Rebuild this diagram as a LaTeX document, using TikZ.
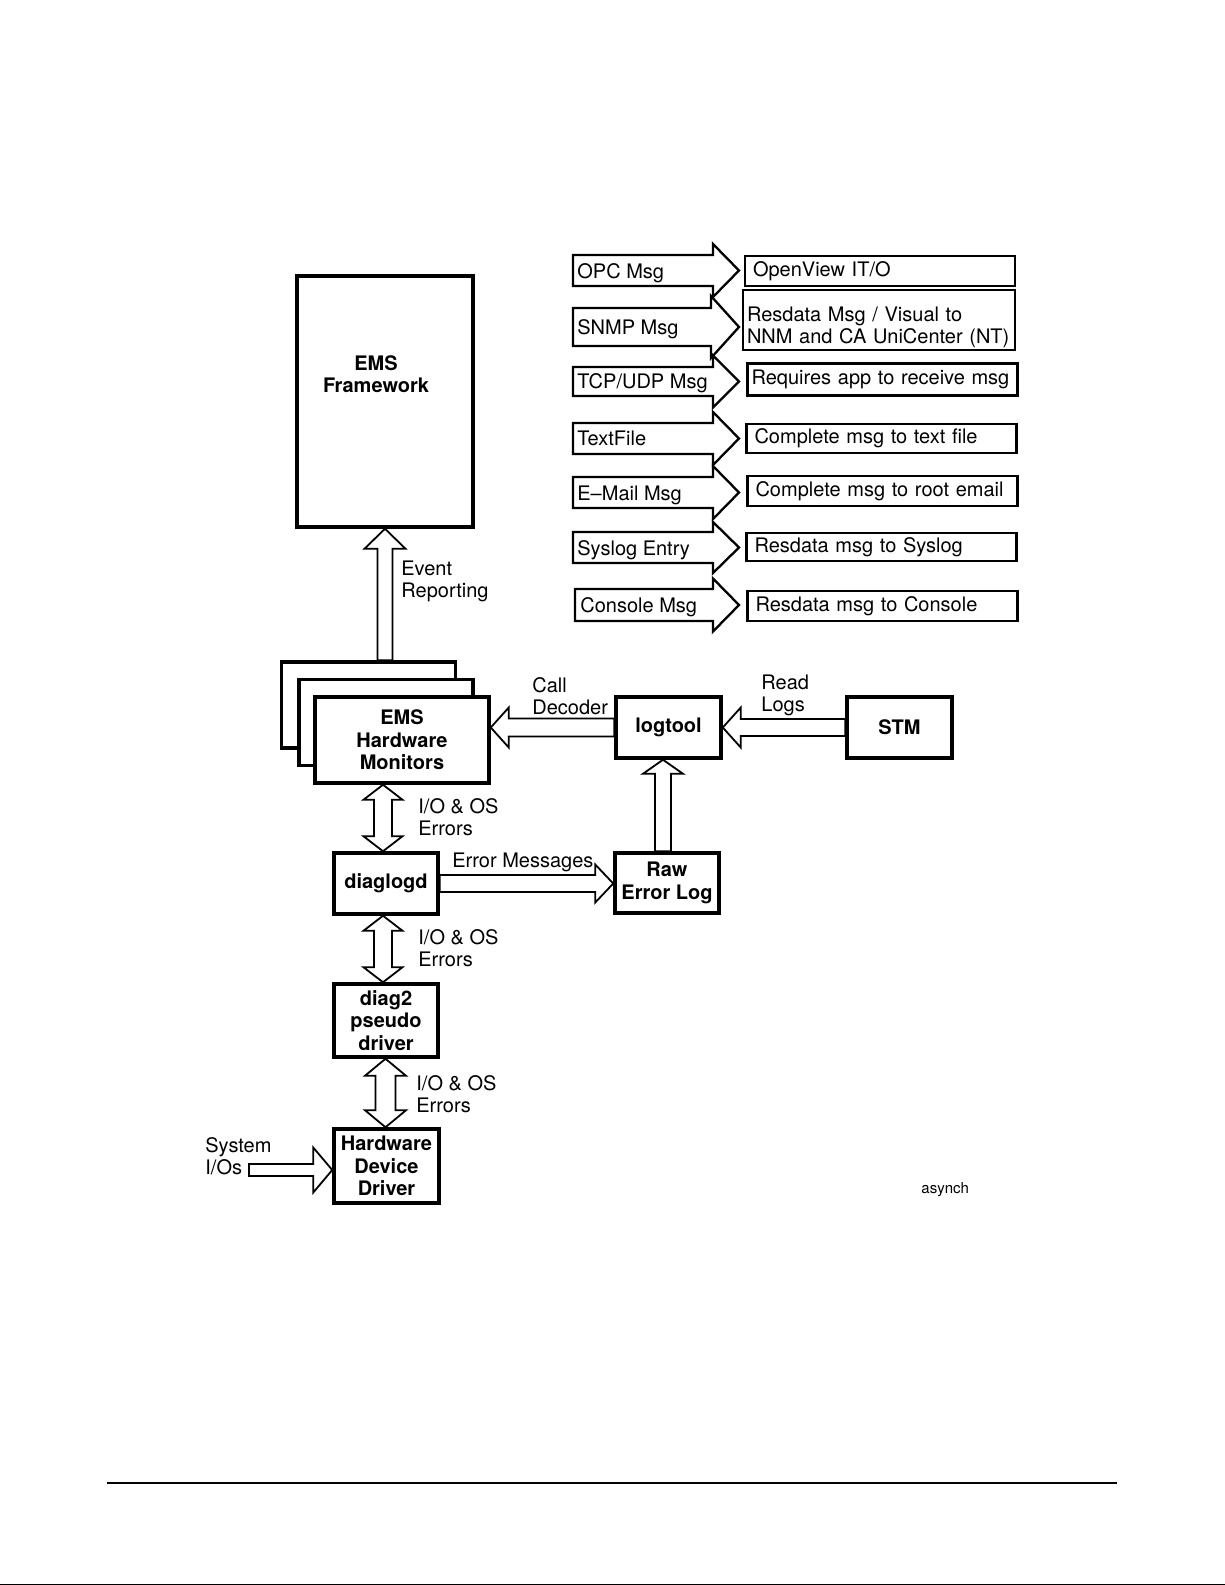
\documentclass[tikz,border=0pt]{standalone}
\usepackage{fontspec}
\setmainfont{TeX Gyre Heros}
\usetikzlibrary{calc,backgrounds}

\tikzset{
  fshaft/.store in=\fshaft, fhead/.store in=\fhead,
  flen/.store in=\flen, fwidth/.store in=\fwidth,
  fshaft=4.5pt, fhead=10pt, flen=9pt, fwidth=0.9pt,
  blockarrow/.style={draw, line width=\fwidth, line join=miter, fill=white},
  rowarrow/.style={fshaft=7.75pt, fhead=13.25pt, flen=13pt, fwidth=1.15pt},
  boldbox/.style={draw, line width=1.75pt, fill=white, inner sep=0pt, align=center,
    font=\bfseries\fontsize{10}{11.2}\selectfont},
  outbox/.style={draw, line width=1.1pt, fill=white, inner xsep=4pt, inner ysep=0pt,
    text width=127pt, align=left, minimum height=15pt, font=\fontsize{10}{11}\selectfont},
  lbl/.style={inner sep=0pt, align=left, font=\fontsize{10}{11}\selectfont},
  boldlbl/.style={inner sep=0pt, align=center, font=\bfseries\fontsize{10}{11.2}\selectfont},
}

% outlined block arrow from #2 to #3
\newcommand{\fatarrow}[3][]{%
  \begin{scope}[#1]
  \begin{pgfonlayer}{background}
    \coordinate (fa-a) at (#2);
    \coordinate (fa-b) at (#3);
    \coordinate (fa-c) at ($(fa-b)!\flen!(fa-a)$);
    \draw[blockarrow] ($(fa-a)!\fshaft!90:(fa-b)$) -- ($(fa-c)!\fshaft!90:(fa-b)$)
      -- ($(fa-c)!\fhead!90:(fa-b)$) -- (fa-b) -- ($(fa-c)!\fhead!-90:(fa-b)$)
      -- ($(fa-c)!\fshaft!-90:(fa-b)$) -- ($(fa-a)!\fshaft!-90:(fa-b)$) -- cycle;
  \end{pgfonlayer}
  \end{scope}}

% outlined block arrow with a head at both ends
\newcommand{\dblarrow}[3][]{%
  \begin{scope}[#1]
  \begin{pgfonlayer}{background}
    \coordinate (fa-a) at (#2);
    \coordinate (fa-b) at (#3);
    \coordinate (fa-c) at ($(fa-b)!\flen!(fa-a)$);
    \coordinate (fa-d) at ($(fa-a)!\flen!(fa-b)$);
    \draw[blockarrow] (fa-a) -- ($(fa-d)!\fhead!90:(fa-b)$) -- ($(fa-d)!\fshaft!90:(fa-b)$)
      -- ($(fa-c)!\fshaft!90:(fa-b)$) -- ($(fa-c)!\fhead!90:(fa-b)$) -- (fa-b)
      -- ($(fa-c)!\fhead!-90:(fa-b)$) -- ($(fa-c)!\fshaft!-90:(fa-b)$)
      -- ($(fa-d)!\fshaft!-90:(fa-b)$) -- ($(fa-d)!\fhead!-90:(fa-b)$) -- cycle;
  \end{pgfonlayer}
  \end{scope}}

\begin{document}
\begin{tikzpicture}[x=0.5pt, y=-0.5pt]
  \useasboundingbox (0,0) rectangle (1225,1585);

  % EMS framework
  \node[boldbox, minimum width=88pt, minimum height=125.5pt] (emsfw) at (385,401.5) {};
  \node[boldlbl, anchor=north] (emsfwlbl) at (376,355) {EMS\\Framework};

  % stack of hardware monitors
  \node[boldbox, minimum width=87pt, minimum height=43pt] (hwback1) at (368.5,705) {};
  \node[boldbox, minimum width=87pt, minimum height=43pt] (hwback2) at (386,722.5) {};
  \node[boldbox, minimum width=87pt, minimum height=43pt] (hwm) at (402,740) {EMS\\Hardware\\Monitors};

  % logging tools
  \node[boldbox, minimum width=52.5pt, minimum height=30.5pt] (logtool) at (668.5,727.5) {logtool};
  \node[boldbox, minimum width=52.5pt, minimum height=30.5pt] (stm) at (899.5,727.5) {STM};
  \node[boldbox, minimum width=52pt, minimum height=30pt] (rawlog) at (667,883) {Raw\\Error Log};

  % driver chain
  \node[boldbox, minimum width=52pt, minimum height=30.5pt] (diaglogd) at (386,883.5) {diaglogd};
  \node[boldbox, minimum width=52pt, minimum height=36.5pt] (diag2) at (386,1020.5) {diag2\\pseudo\\driver};
  \node[boldbox, minimum width=52.5pt, minimum height=37pt] (hwdd) at (386.5,1166) {Hardware\\Device\\Driver};

  % arrows between the boxes
  \fatarrow[fshaft=3.75pt, fhead=10.25pt, flen=10pt]{emsfw.south |- hwback1.north}{emsfw.south}
  \fatarrow[fshaft=4.5pt]{logtool.west}{logtool.west -| hwm.east}
  \fatarrow[fshaft=4.25pt]{stm.west}{stm.west -| logtool.east}
  \coordinate (rawtop) at ([xshift=-2pt]rawlog.north);
  \fatarrow[fshaft=4pt, flen=7pt]{rawtop}{rawtop |- logtool.south}
  \fatarrow[fshaft=4.25pt, fhead=9.5pt]{diaglogd.east}{diaglogd.east -| rawlog.west}
  \coordinate (io1) at ([xshift=-1.5pt]diaglogd.north);
  \dblarrow[fhead=9.75pt, flen=7.5pt]{io1 |- hwm.south}{io1}
  \coordinate (io2) at ([xshift=-1.5pt]diag2.north);
  \dblarrow[fhead=9.75pt, flen=7.5pt]{io2 |- diaglogd.south}{io2}
  \coordinate (io3) at ([xshift=-0.5pt]hwdd.north);
  \dblarrow[fshaft=5pt, fhead=10.25pt, flen=8.5pt]{io3 |- diag2.south}{io3}
  \coordinate (sysio) at (249,1170);
  \fatarrow[fshaft=3pt, fhead=11.25pt, flen=9.5pt]{sysio}{sysio -| hwdd.west}

  % arrow labels
  \node[lbl, anchor=north west] (eventlbl) at (401,561) {Event\\Reporting};
  \node[lbl, anchor=north west] (calllbl) at (532,677) {Call\\Decoder};
  \node[lbl, anchor=north west] (readlbl) at (761,675) {Read\\Logs};
  \node[lbl, anchor=north west] (io1lbl) at (418,798) {I/O \& OS\\Errors};
  \node[lbl, anchor=north west] (io2lbl) at (418,929) {I/O \& OS\\Errors};
  \node[lbl, anchor=north west] (io3lbl) at (416,1075) {I/O \& OS\\Errors};
  \node[lbl, anchor=base west] (errlbl) at (452,867) {Error Messages};
  \node[lbl, anchor=north west] (sysiolbl) at (205,1137) {System\\I/Os};
  \node[lbl, anchor=base west, font=\fontsize{7.5}{9}\selectfont] (asynch) at (921,1193) {asynch};

  % notification targets
  \node[outbox] (openview) at (880,271) {OpenView IT/O};
  \node[outbox, minimum height=30pt, text width=132pt, inner xsep=2pt] (resdata) at (879,320)
    {\rule{0pt}{14.5pt}Resdata Msg / Visual to\\NNM and CA UniCenter (NT)};
  \node[outbox, minimum height=16pt, text width=131pt, inner xsep=2pt] (requires) at (882.5,379.5) {Requires app to receive msg};
  \node[outbox, minimum height=14.5pt] (textfile) at (881.5,438.5) {Complete msg to text file};
  \node[outbox] (rootmail) at (882.5,491) {Complete msg to root email};
  \node[outbox, minimum height=14pt] (syslog) at (881.5,547) {Resdata msg to Syslog};
  \node[outbox] (console) at (882.5,606) {Resdata msg to Console};

  % notification arrows
  \coordinate (tipx) at (739,0);
  \coordinate (opc) at (573,270.5);
  \coordinate (snmp) at (573,327);
  \coordinate (tcp) at (573,381.5);
  \coordinate (txt) at (573,438.5);
  \coordinate (email) at (573,492.5);
  \coordinate (sysl) at (573,547.5);
  \coordinate (cons) at (575,605);
  \fatarrow[rowarrow]{opc}{opc -| tipx}
  \fatarrow[rowarrow, fshaft=9.5pt, fhead=15.5pt, flen=14pt]{snmp}{snmp -| tipx}
  \fatarrow[rowarrow, fshaft=7.25pt, fhead=13pt]{tcp}{tcp -| tipx}
  \fatarrow[rowarrow]{txt}{txt -| tipx}
  \fatarrow[rowarrow]{email}{email -| tipx}
  \fatarrow[rowarrow, fhead=12.75pt]{sysl}{sysl -| tipx}
  \fatarrow[rowarrow, fshaft=8pt]{cons}{cons -| tipx}
  \node[lbl, anchor=base west] (opclbl) at ($(opc)+(4,7.5)$) {OPC Msg};
  \node[lbl, anchor=base west] (snmplbl) at ($(snmp)+(4,7)$) {SNMP Msg};
  \node[lbl, anchor=base west] (tcplbl) at ($(tcp)+(4,7)$) {TCP/UDP Msg};
  \node[lbl, anchor=base west] (txtlbl) at ($(txt)+(4,7)$) {TextFile};
  \node[lbl, anchor=base west] (emaillbl) at ($(email)+(4,7.5)$) {E--Mail Msg};
  \node[lbl, anchor=base west] (sysllbl) at ($(sysl)+(4,7.5)$) {Syslog Entry};
  \node[lbl, anchor=base west] (conslbl) at ($(cons)+(5,7)$) {Console Msg};

  % page rules
  \draw[line width=1pt] (107,1483) -- (1117,1483);
  \draw[line width=0.5pt] (0,1584.5) -- (1225,1584.5);
\end{tikzpicture}
\end{document}
